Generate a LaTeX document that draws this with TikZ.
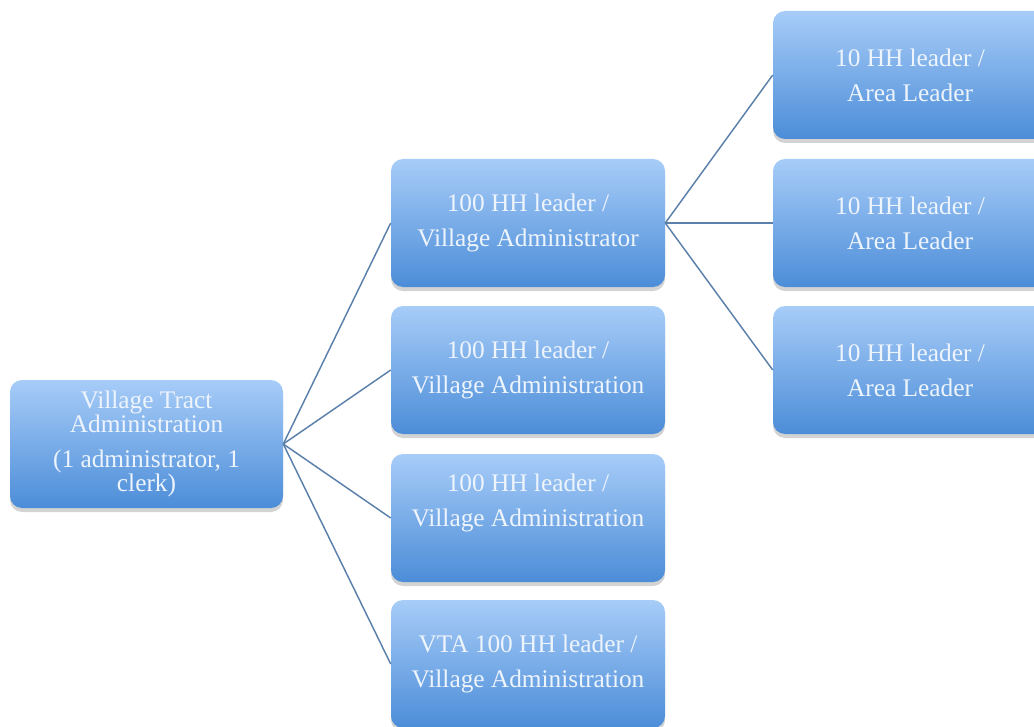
\documentclass[tikz,border=0pt]{standalone}
\usepackage{fontspec}
\setmainfont{Liberation Serif}
\usetikzlibrary{shadows,shadings}
\definecolor{boxtop}{HTML}{A7CCF8}
\definecolor{boxbot}{HTML}{4C8DD8}
\definecolor{boxtext}{HTML}{EEF4FC}
\definecolor{linkcol}{HTML}{5B80AA}
\definecolor{shadowcol}{HTML}{A8A8A8}
\tikzset{
  orgbox/.style={rounded corners=9pt, top color=boxtop, bottom color=boxbot,
    draw=none, minimum width=205.5pt, minimum height=96pt, inner sep=0pt,
    text=boxtext, align=center, font=\fontsize{19}{26.25}\selectfont,
    drop shadow={shadow xshift=0pt, shadow yshift=-3pt, fill=shadowcol, opacity=0.5}},
  rootbox/.style={orgbox, minimum width=204.75pt, font=\fontsize{19}{18}\selectfont},
  link/.style={draw=linkcol, line width=1.1pt}
}
\begin{document}
\begin{tikzpicture}[x=0.75pt,y=-0.75pt]
\useasboundingbox (0,0) rectangle (1034,727);
\clip (0,0) rectangle (1034,727);
\node[rootbox] (root) at (146.5,444) {Village Tract\\Administration\\[8pt](1 administrator, 1\\clerk)};
\node[orgbox] (m1) at (528,223) {100 HH leader /\\Village Administrator};
\node[orgbox] (m2) at (528,370) {100 HH leader /\\Village Administration};
\node[orgbox] (m3) at (528,518) {100 HH leader /\\Village Administration\\\mbox{}};
\node[orgbox] (m4) at (528,664) {VTA 100 HH leader /\\Village Administration};
\node[orgbox] (r1) at (910,75) {10 HH leader /\\Area Leader};
\node[orgbox] (r2) at (910,223) {10 HH leader /\\Area Leader};
\node[orgbox] (r3) at (910,370) {10 HH leader /\\Area Leader};
\draw[link] (root.east) -- (m1.west);
\draw[link] (root.east) -- (m2.west);
\draw[link] (root.east) -- (m3.west);
\draw[link] (root.east) -- (m4.west);
\draw[link] (m1.east) -- (r1.west);
\draw[link] (m1.east) -- (r2.west);
\draw[link] (m1.east) -- (r3.west);
\end{tikzpicture}
\end{document}
